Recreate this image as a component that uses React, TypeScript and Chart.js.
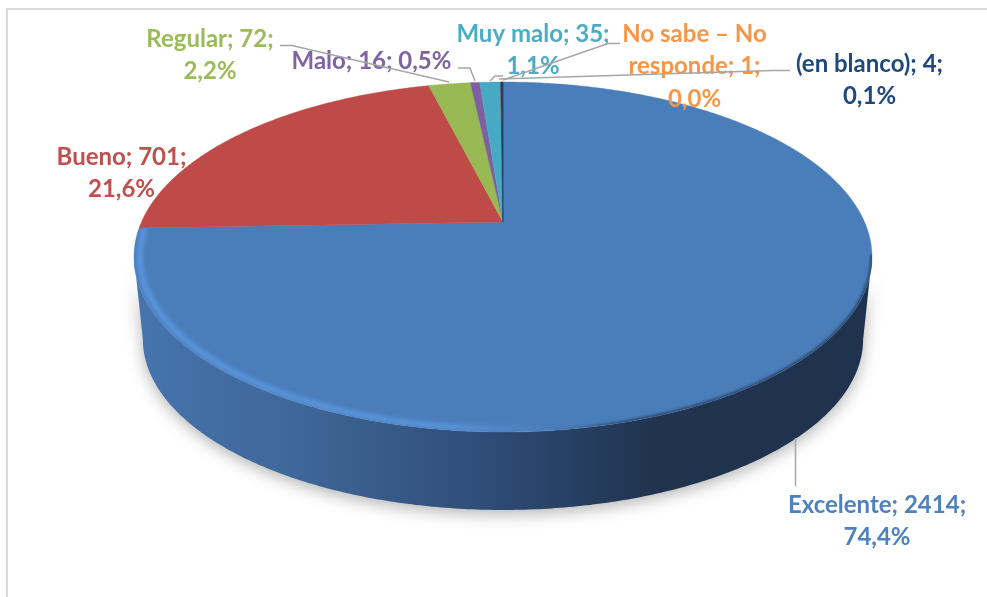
import React, { useEffect, useRef } from "react";
import { Chart, registerables } from "chart.js";

Chart.register(...registerables);

const categories = ["Excelente", "Bueno", "Regular", "Malo", "Muy malo", "No sabe – No responde", "(en blanco)"];
const values = [2414, 701, 72, 16, 35, 1, 4];
const sliceColors = ["#4a7ebb", "#be4b48", "#98b954", "#7d60a0", "#46aac4", "#f69240", "#1f3f68"];
const textColors = ["#4f81bd", "#c0504d", "#9bbb59", "#8064a2", "#4bacc6", "#f79646", "#1f497d"];
// How each data label breaks into lines, with its centre x and first-line centre y.
const labelLayout = [
  { x: 877, y: 505, lines: ["Excelente; 2414;", "74,4%"] },
  { x: 121.5, y: 157, lines: ["Bueno; 701;", "21,6%"] },
  { x: 210, y: 39, lines: ["Regular; 72;", "2,2%"] },
  { x: 371.5, y: 61, lines: ["Malo; 16; 0,5%"] },
  { x: 533, y: 34, lines: ["Muy malo; 35;", "1,1%"] },
  { x: 694.5, y: 34, lines: ["No sabe – No", "responde; 1;", "0,0%"] },
  { x: 869.5, y: 64, lines: ["(en blanco); 4;", "0,1%"] },
];
const leaderLines = [
  [[795.5, 438], [795.5, 486]],
  [[280, 45.5], [292, 45.5], [449, 82]],
  [[458, 68], [470, 68], [475, 81]],
  [[490, 81], [495, 76], [503, 76]],
  [[620, 43.5], [608, 43.5], [503, 80]],
  [[790, 70.5], [773, 70.5], [499, 79]],
];

const CX = 503;
const CY = 222;
const K = 0.2;
const A = 369 * Math.sqrt(1 - K * K);
const B = 168;

function project(theta: number, scale = 1, dy = 0): [number, number] {
  const u = Math.sin(theta);
  const v = -Math.cos(theta);
  const w = 1 - K * v;
  return [CX + (scale * A * u) / w, CY + dy + (scale * B * v) / w];
}

function tracePath(ctx: CanvasRenderingContext2D, from: number, to: number, scale = 1, dy = 0, move = true) {
  const n = Math.max(2, Math.ceil(Math.abs(to - from) / 0.01));
  for (let i = 0; i <= n; i++) {
    const [x, y] = project(from + ((to - from) * i) / n, scale, dy);
    if (i === 0 && move) ctx.moveTo(x, y);
    else ctx.lineTo(x, y);
  }
}

const pie3d = {
  id: "pie3d",
  beforeDraw(chart: any) {
    const ctx: CanvasRenderingContext2D = chart.ctx;
    ctx.save();
    ctx.fillStyle = "#ffffff";
    ctx.fillRect(0, 0, chart.width, chart.height);
    ctx.strokeStyle = "#d9d9d9";
    ctx.lineWidth = 2;
    ctx.strokeRect(7, 9, chart.width + 50, chart.height + 50);
    ctx.restore();
  },
  beforeDatasetDraw(chart: any) {
    const ctx: CanvasRenderingContext2D = chart.ctx;
    const arcs = chart.getDatasetMeta(0).data;
    const DEPTH = 83;
    const BASE = 0.976;
    const tangent = Math.PI - Math.acos(K);
    const leftT = 2 * Math.PI - tangent;

    ctx.save();
    const wall = ctx.createLinearGradient(134, 0, 872, 0);
    wall.addColorStop(0, "#4674ad");
    wall.addColorStop(0.22, "#3f6799");
    wall.addColorStop(0.5, "#2d4a74");
    wall.addColorStop(0.7, "#20344f");
    wall.addColorStop(1, "#1f334e");
    ctx.shadowColor = "rgba(0,0,0,0.3)";
    ctx.shadowBlur = 16;
    ctx.shadowOffsetY = 4;
    ctx.fillStyle = wall;
    ctx.beginPath();
    tracePath(ctx, leftT, tangent, BASE, DEPTH);
    tracePath(ctx, tangent, leftT, 1, 0, false);
    ctx.closePath();
    ctx.fill();
    ctx.restore();

    arcs.forEach((arc: any, i: number) => {
      const s = arc.startAngle + Math.PI / 2;
      const e = arc.endAngle + Math.PI / 2;
      ctx.save();
      ctx.fillStyle = sliceColors[i];
      ctx.strokeStyle = sliceColors[i];
      ctx.beginPath();
      ctx.moveTo(CX, CY);
      tracePath(ctx, s, e, 1, 0, false);
      ctx.closePath();
      ctx.fill();
      if (e - s > 0.005) {
        ctx.lineWidth = e - s < 0.02 ? 0.8 : 0.4;
        ctx.stroke();
      }
      ctx.restore();
    });

    // Bevel on the rim of the largest slice
    ctx.save();
    const bigStart = arcs[0].startAngle + Math.PI / 2;
    const bigEnd = arcs[0].endAngle + Math.PI / 2;
    ctx.beginPath();
    ctx.moveTo(CX, CY);
    tracePath(ctx, bigStart, bigEnd, 1, 0, false);
    ctx.closePath();
    ctx.clip();
    const light = ctx.createLinearGradient(134, 0, 872, 0);
    light.addColorStop(0, "rgba(92,152,224,0.9)");
    light.addColorStop(0.42, "rgba(92,152,224,0.85)");
    light.addColorStop(0.56, "rgba(92,152,224,0)");
    light.addColorStop(1, "rgba(92,152,224,0)");
    ctx.filter = "blur(2px)";
    ctx.lineWidth = 6;
    ctx.strokeStyle = light;
    ctx.beginPath();
    tracePath(ctx, Math.PI * 0.6, bigEnd, 0.984, 0);
    ctx.stroke();
    const dark = ctx.createLinearGradient(134, 0, 872, 0);
    dark.addColorStop(0, "rgba(31,51,78,0)");
    dark.addColorStop(0.56, "rgba(31,51,78,0)");
    dark.addColorStop(0.68, "rgba(31,51,78,0.9)");
    dark.addColorStop(1, "rgba(31,51,78,0.9)");
    ctx.filter = "blur(1.5px)";
    ctx.lineWidth = 3;
    ctx.strokeStyle = dark;
    ctx.beginPath();
    tracePath(ctx, Math.PI * 0.56, Math.PI * 1.2, 1, 0);
    ctx.stroke();
    ctx.restore();
    return false;
  },
  afterDraw(chart: any) {
    const ctx: CanvasRenderingContext2D = chart.ctx;
    ctx.save();
    ctx.textAlign = "center";
    ctx.textBaseline = "middle";
    ctx.font = "bold 24px Lato";
    labelLayout.forEach((label, i) => {
      ctx.fillStyle = textColors[i];
      label.lines.forEach((line, j) => ctx.fillText(line, label.x, label.y + j * 32.5));
    });
    ctx.strokeStyle = "#a6a6a6";
    ctx.lineWidth = 1.5;
    leaderLines.forEach((pts) => {
      ctx.beginPath();
      pts.forEach(([x, y], j) => (j === 0 ? ctx.moveTo(x, y) : ctx.lineTo(x, y)));
      ctx.stroke();
    });
    ctx.restore();
  },
};

export default function App() {
  const ref = useRef<HTMLCanvasElement>(null);
  useEffect(() => {
    const chart = new Chart(ref.current as HTMLCanvasElement, {
      type: "pie",
      data: { labels: categories, datasets: [{ data: values, backgroundColor: sliceColors, borderWidth: 0 }] },
      options: {
        responsive: false,
        animation: false,
        rotation: 0,
        plugins: { legend: { display: false }, tooltip: { enabled: false } },
      },
      plugins: [pie3d],
    } as any);
    return () => chart.destroy();
  }, []);
  return (
    <div style={{ position: "fixed", left: 0, top: 0, width: 987, height: 597, overflow: "hidden" }}>
      <canvas ref={ref} width={987} height={597} style={{ display: "block", filter: "blur(0.45px)" }} />
    </div>
  );
}
